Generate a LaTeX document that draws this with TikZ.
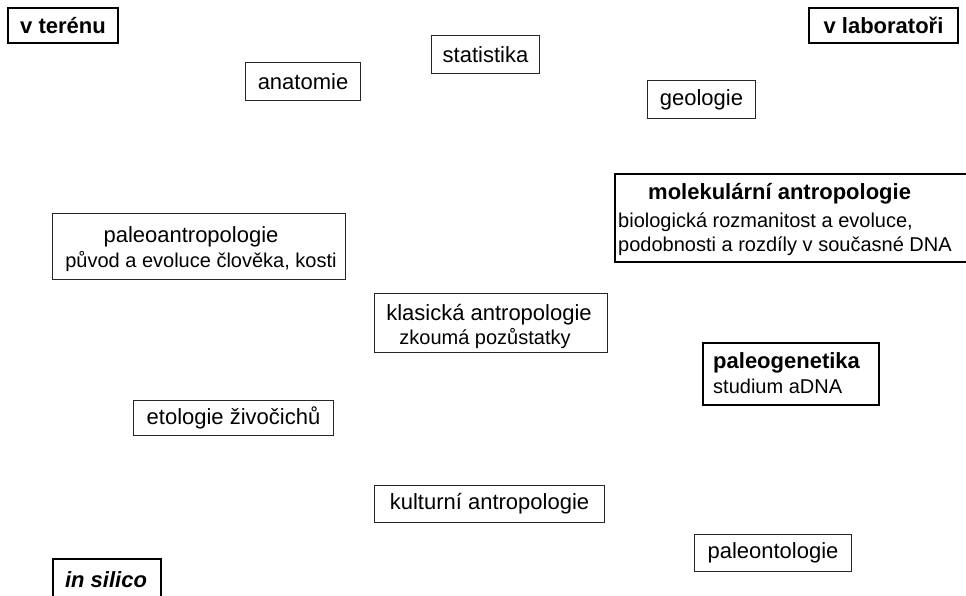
\documentclass[tikz,border=0pt]{standalone}
\usepackage{fontspec}
\setmainfont{Liberation Sans}
\begin{document}
\begin{tikzpicture}[x=1pt,y=-1pt,
  thinbox/.style={draw=black!85,line width=1pt,fill=white},
  thickbox/.style={draw=black,line width=2pt,fill=white},
  ttl/.style={inner sep=0pt,font=\fontsize{22}{26}\selectfont},
  bttl/.style={inner sep=0pt,font=\fontsize{22}{26}\selectfont\bfseries},
  sub/.style={inner sep=0pt,font=\fontsize{20}{24}\selectfont}]
\useasboundingbox (0,0) rectangle (966,595);
% boxes
\node[thickbox,anchor=north west,minimum width=110pt,minimum height=35pt,inner sep=0pt] (bteren) at (7,7) {};
\node[thickbox,anchor=north west,minimum width=149pt,minimum height=35pt,inner sep=0pt] (blab) at (808,7) {};
\node[thinbox,anchor=north west,minimum width=108pt,minimum height=38pt,inner sep=0pt] (bstat) at (431,35) {};
\node[thinbox,anchor=north west,minimum width=115pt,minimum height=38pt,inner sep=0pt] (banat) at (245,62) {};
\node[thinbox,anchor=north west,minimum width=108pt,minimum height=38pt,inner sep=0pt] (bgeo) at (647,80) {};
\node[thickbox,anchor=north west,minimum width=360pt,minimum height=88pt,inner sep=0pt] (bmol) at (614,173) {};
\node[thinbox,anchor=north west,minimum width=293pt,minimum height=66pt,inner sep=0pt] (bpaleoa) at (52,213) {};
\node[thinbox,anchor=north west,minimum width=233pt,minimum height=59pt,inner sep=0pt] (bklas) at (374,293) {};
\node[thickbox,anchor=north west,minimum width=176pt,minimum height=62pt,inner sep=0pt] (bpgen) at (702,342) {};
\node[thinbox,anchor=north west,minimum width=200pt,minimum height=35pt,inner sep=0pt] (beto) at (133,400) {};
\node[thinbox,anchor=north west,minimum width=230pt,minimum height=37pt,inner sep=0pt] (bkult) at (374,485) {};
\node[thinbox,anchor=north west,minimum width=157pt,minimum height=37pt,inner sep=0pt] (bpont) at (694,534) {};
\node[thickbox,anchor=north west,minimum width=108pt,minimum height=45pt,inner sep=0pt] (bsil) at (52,558) {};
% texts
\node[bttl] (tteren) at (bteren.center) {v terénu};
\node[bttl] (tlab) at (blab.center) {v laboratoři};
\node[ttl] (tstat) at (bstat.center) {statistika};
\node[ttl] (tanat) at (banat.center) {anatomie};
\node[ttl] (tgeo) at (bgeo.center) {geologie};
\node[bttl,anchor=base west] (tmol) at (648,199) {molekulární antropologie};
\node[sub,anchor=base west] (tmol2) at (618,227) {biologická rozmanitost a evoluce,};
\node[sub,anchor=base west] (tmol3) at (618,251) {podobnosti a rozdíly v současné DNA};
\node[ttl,anchor=base] (tpaleoa) at (191,242) {paleoantropologie};
\node[sub,anchor=base] (tpaleoa2) at (201,267) {původ a evoluce člověka, kosti};
\node[ttl,anchor=base] (tklas) at (489,320) {klasická antropologie};
\node[sub,anchor=base] (tklas2) at (485,344) {zkoumá pozůstatky};
\node[bttl,anchor=base west] (tpgen) at (713,368) {paleogenetika};
\node[sub,anchor=base west] (tpgen2) at (713,393) {studium aDNA};
\node[ttl] (teto) at (beto.center) {etologie živočichů};
\node[ttl] (tkult) at (bkult.center) {kulturní antropologie};
\node[ttl] (tpont) at (bpont.center) {paleontologie};
\node[bttl,font=\fontsize{22}{26}\selectfont\bfseries\itshape] (tsil) at (106,580) {in silico};
\end{tikzpicture}
\end{document}
